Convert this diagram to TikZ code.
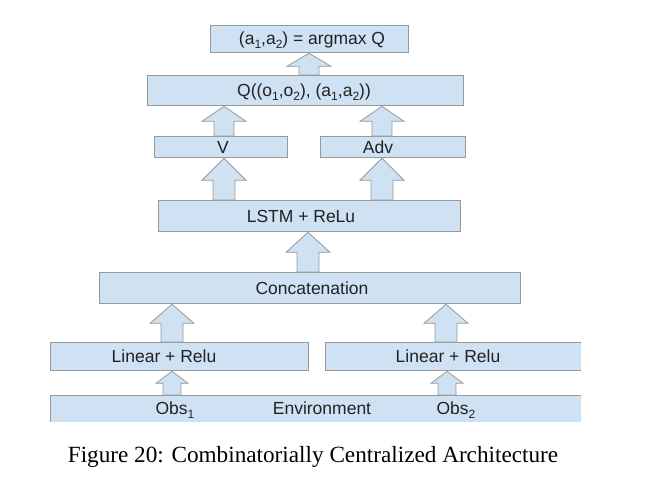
\documentclass[tikz,border=0pt]{standalone}
\usepackage{fontspec}
\setmainfont{Liberation Serif}
\newfontfamily\drawfont{Liberation Sans}
\usetikzlibrary{calc}
\definecolor{boxblue}{HTML}{CFE2F3}
\definecolor{linegrey}{HTML}{999999}
\definecolor{inkgrey}{HTML}{222222}
\tikzset{
	layer/.style={draw=linegrey,line width=1.3pt,fill=boxblue,inner sep=0pt,anchor=north west},
	lbl/.style={font=\drawfont\fontsize{17.5}{20}\selectfont,text=inkgrey,inner sep=0pt,anchor=base},
	fatarrow/.style={draw=linegrey,line width=0.8pt,fill=boxblue}
}
\newcommand\lowsub[1]{{\fontsize{12}{12}\selectfont\raisebox{-4.5pt}{#1}}}
% block arrow: x, lower node, upper node, half shaft, half head, head length
\newcommand\fatup[6]{%
	\path[fatarrow] let \p1=(#2.north), \p2=(#3.south) in
		({#1-#4},\y1) -- ({#1-#4},{\y2-#6}) -- ({#1-#5},{\y2-#6}) -- (#1,\y2)
		-- ({#1+#5},{\y2-#6}) -- ({#1+#4},{\y2-#6}) -- ({#1+#4},\y1) -- cycle;}
\begin{document}
\begin{tikzpicture}[x=1pt,y=1pt]
	\useasboundingbox (0,0) rectangle (647,-484);
	\begin{scope}
	\clip (0,0) rectangle (581,-421);
	\node [layer,minimum width=198pt,minimum height=27pt] at (210,-25) (argmax) {};
	\node [layer,minimum width=316pt,minimum height=30pt] at (147,-75) (qval) {};
	\node [layer,minimum width=133pt,minimum height=21pt] at (154,-136) (vbox) {};
	\node [layer,minimum width=145pt,minimum height=21pt] at (320,-136) (advbox) {};
	\node [layer,minimum width=302pt,minimum height=31pt] at (158,-200) (lstm) {};
	\node [layer,minimum width=421pt,minimum height=31pt] at (99,-272) (concat) {};
	\node [layer,minimum width=258pt,minimum height=28pt] at (50,-342) (linA) {};
	\node [layer,minimum width=270pt,minimum height=28pt] at (325,-342) (linB) {};
	\node [layer,minimum width=545pt,minimum height=40pt] at (50,-395) (env) {};
	\node [lbl] at (312,-44.5) (argmaxT) {(a\lowsub{1},a\lowsub{2}) = argmax Q};
	\node [lbl] at (304,-96) (qvalT) {Q((o\lowsub{1},o\lowsub{2}), (a\lowsub{1},a\lowsub{2}))};
	\node [lbl] at (223,-153) (vT) {V};
	\node [lbl] at (378,-153) (advT) {Adv};
	\node [lbl] at (301,-222) (lstmT) {LSTM + ReLu};
	\node [lbl] at (312,-294) (concatT) {Concatenation};
	\node [lbl] at (164,-362.5) (linAT) {Linear + Relu};
	\node [lbl] at (448,-362.5) (linBT) {Linear + Relu};
	\node [lbl] at (175,-414) (obsAT) {Obs\lowsub{1}};
	\node [lbl] at (322,-414) (envT) {Environment};
	\node [lbl] at (456,-414) (obsBT) {Obs\lowsub{2}};
	\foreach \xc/\lo/\hi/\sw/\hw/\hl in {224/lstm/vbox/11/22/22,382/lstm/advbox/11/22/22,
		224/vbox/qval/10/22/15,382/advbox/qval/10/22/15,309/qval/argmax/10/22/13,
		308/concat/lstm/11/22/20,172/linA/concat/11/22/19,446/linB/concat/11/22/19,
		172/env/linA/9/16/12,447/env/linB/9/16/12}{
		\fatup{\xc}{\lo}{\hi}{\sw}{\hw}{\hl}
	}
	\end{scope}
	\node [font=\fontsize{23.2}{26}\selectfont,anchor=base] at (313,-462) (caption)
		{Figure 20: Combinatorially Centralized Architecture};
\end{tikzpicture}
\end{document}
